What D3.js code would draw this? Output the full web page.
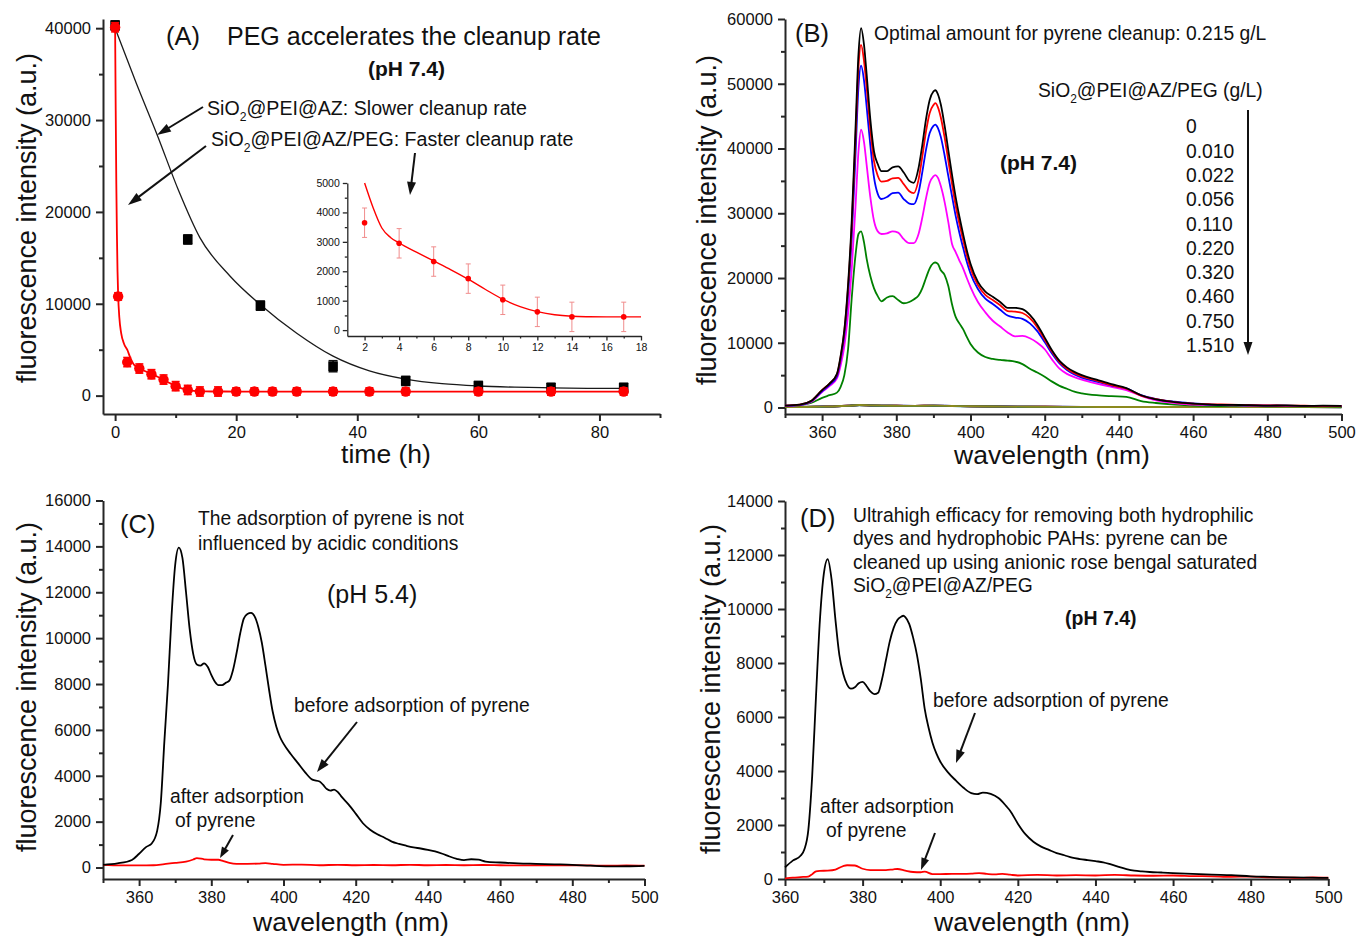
<!DOCTYPE html>
<html>
<head>
<meta charset="utf-8">
<script src="https://cdn.jsdelivr.net/npm/d3@7"></script>
<style>
  html, body { margin: 0; padding: 0; background: #fff; }
  svg { display: block; font-family: "Liberation Sans", Arial, Helvetica, sans-serif; }
</style>
</head>
<body>
<svg id="fig" width="1358" height="938"></svg>
<script>
// ---------------- Panel A: cleanup kinetics ----------------
// time (h), intensity, error
const azTime  = [0, 12, 24, 36, 48, 60, 72, 84];
const azValue = [40300, 17000, 9800, 3200, 1600, 1050, 850, 850];
const azError = [500, 500, 500, 600, 500, 500, 500, 500];

const pegTime  = [0, 0.5, 2, 4, 6, 8, 10, 12, 14, 17, 20, 23, 26, 30, 36, 42, 48, 60, 72, 84];
const pegValue = [40100, 10800, 3650, 2950, 2330, 1750, 1030, 620, 450, 450, 450, 450, 450, 450, 450, 450, 450, 450, 450, 450];
const pegError = [500, 400, 500, 500, 500, 500, 500, 500, 500, 500, 400, 400, 400, 400, 400, 400, 400, 400, 400, 400];

// fitted decay curves
const azFitTime  = [0, 3.5, 7, 10.5, 14, 19, 24, 30, 36, 42, 48, 54, 60, 66, 72, 78, 84];
const azFitValue = [40000, 34000, 28300, 22300, 17200, 13000, 9900, 6800, 4300, 2700, 1800, 1300, 1050, 920, 850, 800, 780];
const pegFitTime  = [0, 0.1, 0.2, 0.3, 0.4, 0.5, 0.7, 1, 1.5, 2, 2.5, 3, 3.5, 4, 5, 6, 7, 8, 9, 10, 11, 12, 13, 14, 15, 16, 18, 24, 36, 48, 60, 72, 84];
const pegFitValue = [40000, 31000, 23000, 17500, 13500, 11000, 8500, 6800, 5600, 5000, 4150, 3470, 3150, 2960, 2650, 2350, 2050, 1730, 1380, 1050, 800, 630, 520, 470, 455, 450, 450, 440, 430, 430, 430, 430, 430];

const timeTicks = [0, 20, 40, 60, 80];
const timeMinor = [10, 30, 50, 70, 90];
const aYTicks = [0, 10000, 20000, 30000, 40000];
const aYMinor = [5000, 15000, 25000, 35000];
const insetXTicks = [2, 4, 6, 8, 10, 12, 14, 16, 18];
const insetXMinor = [3, 5, 7, 9, 11, 13, 15, 17];
const insetYTicks = [0, 1000, 2000, 3000, 4000, 5000];
const insetYMinor = [500, 1500, 2500, 3500, 4500];

// ---------------- Panel B: dose series ----------------
const doseLabels = ["0", "0.010", "0.022", "0.056", "0.110", "0.220", "0.320", "0.460", "0.750", "1.510"];
const wlB = [350, 354, 357, 360, 362, 364, 365, 366, 367, 368,
             369, 369.8, 370.5, 371.3, 372, 373, 374, 375, 376, 377.5,
             379, 380.5, 382, 383.5, 384.7, 386, 387, 388, 389, 390,
             390.5, 391.2, 392, 393, 394, 395, 396, 397, 398, 399,
             400, 402, 404, 406, 408, 410, 412, 414, 416, 418,
             420, 422, 424, 426, 428, 430, 434, 438, 442, 446,
             450, 455, 460, 465, 470, 475, 480, 485, 490, 495, 500];
const dose0 = [300, 450, 1000, 2700, 3700, 5200, 8000, 12000, 19000, 29000,
               43000, 54500, 58600, 56000, 51500, 44500, 39500, 37600, 36500, 36500,
               37100, 37250, 36300, 35000, 34700, 37000, 40500, 44500, 47500, 48800,
               49000, 48400, 46800, 43600, 39800, 36000, 32500, 29500, 26800, 24300,
               22200, 19400, 17900, 17100, 16300, 15400, 15400, 15200, 14300, 12800,
               10800, 8800, 7200, 6200, 5500, 5000, 4300, 3600, 3000, 1900,
               1250, 850, 600, 450, 400, 380, 300, 320, 250, 280, 250];
const dose010 = [300, 450, 1000, 2700, 3700, 5100, 7800, 11800, 18500, 28000,
                 41500, 52500, 56000, 53500, 49500, 43000, 38000, 35800, 34900, 35000,
                 35400, 35450, 34500, 33400, 33100, 35200, 38700, 42600, 45500, 46700,
                 47000, 46400, 44800, 41800, 38200, 34600, 31200, 28400, 25900, 23500,
                 21500, 18900, 17400, 16600, 15800, 14900, 14800, 14600, 13800, 12400,
                 10500, 8600, 7000, 6000, 5300, 4800, 4150, 3450, 2900, 1850,
                 1300, 850, 600, 500, 450, 350, 320, 300, 280, 250, 250];
const dose022 = [300, 420, 950, 2500, 3500, 4800, 7400, 11200, 17500, 26500,
                 39000, 49500, 52800, 50500, 46500, 40500, 35500, 33000, 32200, 32500,
                 33100, 33200, 32200, 31500, 31400, 33200, 36300, 39800, 42400, 43500,
                 43700, 43200, 41800, 39000, 35800, 32700, 29600, 27000, 24700, 22500,
                 20700, 18300, 16800, 16000, 15100, 14200, 13900, 13700, 13000, 11800,
                 10100, 8300, 6800, 5800, 5100, 4600, 4000, 3400, 2950, 1900,
                 1300, 900, 650, 450, 400, 350, 300, 280, 260, 240, 230];
const dose056 = [250, 380, 850, 2400, 3300, 4500, 6500, 9500, 14500, 21500,
                 31000, 39500, 42900, 41000, 37500, 32500, 28800, 27200, 26800, 26900,
                 27200, 27000, 26000, 25400, 25400, 26800, 29300, 32300, 34700, 35700,
                 35900, 35500, 34200, 31800, 28700, 25300, 24000, 22700, 21500, 20000,
                 18600, 16300, 14700, 13400, 12500, 11600, 11000, 11050, 10700, 10000,
                 9000, 7400, 6000, 5200, 4700, 4300, 3700, 3200, 2700, 1800,
                 1100, 700, 450, 400, 350, 300, 300, 250, 250, 230, 220];
const dose110 = [200, 350, 700, 1500, 1900, 2300, 3200, 5000, 9000, 17000,
                 23500, 26800, 27200, 25500, 23000, 20300, 18400, 17200, 16400, 17000,
                 17200, 16600, 16100, 16300, 16700, 17300, 18400, 20000, 21500, 22300,
                 22400, 22200, 21200, 20500, 18800, 16000, 14000, 13000, 12100, 10900,
                 9800, 8500, 7800, 7500, 7350, 7250, 7100, 6700, 6000, 5400,
                 4750, 4000, 3350, 2900, 2450, 2200, 1900, 1750, 1650, 1000,
                 700, 450, 300, 250, 230, 230, 200, 200, 180, 180, 150];
// residual emission at high doses (coarse grid)
const wlLow = [350, 355, 360, 364, 367, 370, 373, 376, 380, 385, 390, 395, 400, 410, 420, 430, 440, 460, 480, 500];
const dose220 = [80, 100, 150, 200, 280, 380, 330, 300, 280, 260, 300, 250, 200, 150, 120, 100, 90, 80, 70, 60];
const dose320 = [70, 95, 140, 190, 270, 370, 320, 290, 270, 250, 290, 240, 190, 140, 110, 95, 85, 75, 65, 55];
const dose460 = [70, 90, 135, 185, 265, 365, 320, 290, 265, 245, 285, 235, 185, 140, 110, 90, 80, 70, 60, 50];
const dose750 = [65, 85, 130, 180, 260, 360, 315, 285, 260, 240, 280, 230, 180, 135, 105, 90, 80, 70, 60, 50];
const dose1510 = [60, 90, 140, 190, 270, 380, 330, 300, 270, 250, 290, 240, 190, 140, 110, 95, 85, 75, 65, 55];
const doseColors = ["#000000", "#ff0000", "#0000ff", "#ff00ff", "#008000", "#000080", "#800080", "#800000", "#008080", "#8c8a1e"];

const wlTicks = [360, 380, 400, 420, 440, 460, 480, 500];
const wlMinor = [350, 370, 390, 410, 430, 450, 470, 490];
const bYTicks = [0, 10000, 20000, 30000, 40000, 50000, 60000];
const bYMinor = [5000, 15000, 25000, 35000, 45000, 55000];

// ---------------- Panel C: pH 5.4 ----------------
const cBefore = [[350,120],[354,180],[358,330],[360,600],[362,900],[363.5,1050],[365,1600],[366,2800],[367,5500],[368,8000],
  [369,11000],[370,13200],[371,13950],[372,13500],[373,12000],[374,10400],[375,9300],[376,8850],[377,8800],[378,8900],
  [379,8750],[380,8400],[381,8100],[382,7950],[383,7950],[384,8050],[385,8150],[386,8600],[387,9350],[388,10200],
  [389,10850],[390,11050],[391,11100],[392,10950],[393,10500],[394,9800],[395,8800],[396,7750],[397,6800],[398,6150],
  [399,5700],[400,5400],[402,4950],[404,4550],[406,4150],[408,3830],[410,3750],[411,3600],[412,3420],[413,3350],
  [414,3400],[415,3300],[416,3100],[418,2750],[420,2350],[422,1930],[424,1650],[426,1450],[428,1300],[430,1130],
  [432,1030],[434,950],[436,880],[438,830],[440,770],[442,700],[444,600],[446,480],[448,380],[450,320],
  [452,360],[454,340],[456,260],[460,220],[465,180],[470,160],[475,140],[480,120],[485,80],[490,50],[495,55],[500,75]];
const cAfter = [[350,120],[355,90],[360,90],[364,100],[367,150],[370,200],[373,260],[375,350],[376,410],[378,360],
  [380,340],[382,340],[383,300],[385,200],[387,160],[390,160],[393,170],[395,190],[397,160],[400,120],
  [405,130],[410,100],[415,120],[420,100],[425,110],[430,100],[435,120],[440,100],[445,110],[450,100],
  [455,110],[460,100],[465,90],[470,100],[475,90],[480,100],[485,90],[490,80],[495,90],[500,80]];
const cYTicks = [0, 2000, 4000, 6000, 8000, 10000, 12000, 14000, 16000];
const cYMinor = [1000, 3000, 5000, 7000, 9000, 11000, 13000, 15000];

// ---------------- Panel D: rose bengal saturated sorbent ----------------
const dBefore = [[360,430],[362,680],[364,860],[365,1100],[366,1800],[367,3800],[368,6800],[369,9600],[370,11300],[371,11850],
  [372,11100],[373,9600],[374,8300],[375,7600],[376,7200],[377,7050],[378,7100],[379,7250],[380,7300],[381,7150],
  [382,6950],[383,6850],[384,6900],[385,7400],[386,8100],[387,8800],[388,9300],[389,9600],[390,9720],[390.5,9750],
  [391,9700],[392,9450],[393,8950],[394,8300],[395,7400],[396,6300],[397,5600],[398,5050],[399,4650],[400,4350],
  [402,3950],[404,3650],[406,3380],[408,3180],[409.5,3140],[411,3200],[413,3150],[415,3000],[417,2700],[418,2530],
  [420,2050],[422,1650],[424,1380],[426,1200],[428,1080],[430,960],[432,880],[434,790],[436,740],[438,700],
  [440,660],[442,620],[444,540],[446,450],[448,370],[450,310],[452,280],[454,260],[457,240],[460,220],
  [465,190],[470,160],[475,140],[480,100],[485,80],[490,60],[495,50],[500,40]];
const dAfter = [[360,20],[362,50],[364,70],[366,90],[367,180],[368,280],[369,300],[371,310],[373,350],[375,480],
  [376,510],[378,500],[380,380],[382,330],[384,330],[386,330],[388,360],[389,370],[391,310],[393,260],
  [395,250],[396,270],[398,180],[400,180],[403,190],[406,190],[408,200],[410,220],[412,190],[414,170],
  [416,190],[418,160],[420,130],[425,150],[430,130],[435,140],[440,130],[445,150],[450,130],[455,120],
  [460,130],[465,110],[470,100],[475,80],[480,90],[485,60],[490,50],[493,40],[496,60],[500,50]];
const dXTicks = [360, 380, 400, 420, 440, 460, 480, 500];
const dXMinor = [370, 390, 410, 430, 450, 470, 490];
const dYTicks = [0, 2000, 4000, 6000, 8000, 10000, 12000, 14000];
const dYMinor = [1000, 3000, 5000, 7000, 9000, 11000, 13000];

// ---------------- drawing helpers ----------------
const svg = d3.select("#fig");
const AX = "#262626";
const INK = "#111";

function drawAxes(g, x, y, c) {
  const yBase = y.range()[0], xBase = x.range()[0];
  const fmt = d3.format("d");
  const style = (sel, sw) => {
    sel.selectAll("path, line").attr("stroke", AX).attr("stroke-width", sw);
    sel.selectAll("text").attr("fill", INK).attr("font-size", c.font)
      .attr("font-family", '"Liberation Sans", Arial, sans-serif');
    sel.attr("font-family", null).attr("font-size", null);
  };
  const gx = g.append("g").attr("transform", `translate(0,${yBase})`)
    .call(d3.axisBottom(x).tickValues(c.xMajor).tickSize(c.tick).tickSizeOuter(0).tickPadding(c.pad).tickFormat(fmt));
  style(gx, c.sw);
  const gxm = g.append("g").attr("transform", `translate(0,${yBase})`)
    .call(d3.axisBottom(x).tickValues(c.xMinor).tickSize(c.minor).tickSizeOuter(0).tickFormat(""));
  gxm.select(".domain").remove();
  style(gxm, c.sw);
  const gy = g.append("g").attr("transform", `translate(${xBase},0)`)
    .call(d3.axisLeft(y).tickValues(c.yMajor).tickSize(c.tick).tickSizeOuter(0).tickPadding(c.pad).tickFormat(fmt));
  style(gy, c.sw);
  const gym = g.append("g").attr("transform", `translate(${xBase},0)`)
    .call(d3.axisLeft(y).tickValues(c.yMinor).tickSize(c.minor).tickSizeOuter(0).tickFormat(""));
  gym.select(".domain").remove();
  style(gym, c.sw);
}

function label(g, x, y, parts, size, weight, anchor) {
  const t = g.append("text").attr("x", x).attr("y", y)
    .attr("font-size", size).attr("font-weight", weight || "normal")
    .attr("fill", INK).attr("text-anchor", anchor || "start");
  let lowered = false;
  (typeof parts === "string" ? [parts] : parts).forEach(p => {
    if (typeof p === "string") {
      const ts = t.append("tspan").text(p);
      if (lowered) { ts.attr("dy", -size * 0.3); lowered = false; }
    } else {
      t.append("tspan").text(p.sub).attr("font-size", size * 0.62).attr("dy", size * 0.3);
      lowered = true;
    }
  });
  return t;
}

function yTitle(g, x, y, text) {
  g.append("text").attr("transform", `translate(${x},${y}) rotate(-90)`)
    .attr("text-anchor", "middle").attr("font-size", 27).attr("fill", INK).text(text);
}

function arrow(g, x1, y1, x2, y2, len, half, sw) {
  len = len || 13; half = half || 4.5; sw = sw || 2;
  const a = Math.atan2(y2 - y1, x2 - x1);
  const bx = x2 - len * Math.cos(a), by = y2 - len * Math.sin(a);
  g.append("line").attr("x1", x1).attr("y1", y1).attr("x2", bx + 1 * Math.cos(a)).attr("y2", by + 1 * Math.sin(a))
    .attr("stroke", INK).attr("stroke-width", sw);
  const px = -Math.sin(a) * half, py = Math.cos(a) * half;
  g.append("path").attr("d", `M${x2},${y2}L${bx + px},${by + py}L${bx - px},${by - py}Z`).attr("fill", INK);
}

function curve(g, pts, x, y, color, w, kind) {
  g.append("path").datum(pts)
    .attr("d", d3.line().x(d => x(d[0])).y(d => y(d[1])).curve(kind || d3.curveMonotoneX))
    .attr("fill", "none").attr("stroke", color).attr("stroke-width", w)
    .attr("stroke-linejoin", "round");
}

const zip = (a, b) => a.map((v, i) => [v, b[i]]);

// ---------------- Panel A ----------------
{
  const g = svg.append("g");
  const x = d3.scaleLinear().domain([-2, 90]).range([103, 660]);
  const y = d3.scaleLinear().domain([-2000, 41000]).range([414, 19]);
  drawAxes(g, x, y, { xMajor: timeTicks, xMinor: timeMinor, yMajor: aYTicks, yMinor: aYMinor,
                      tick: 7, minor: 4, pad: 5, font: 16.5, sw: 2 });

  curve(g, zip(azFitTime, azFitValue), x, y, "#1a1a1a", 1.3);
  curve(g, zip(pegFitTime, pegFitValue), x, y, "#ff0000", 1.8);

  // AZ series: squares with error bars
  const az = zip(azTime, azValue).map((d, i) => ({ t: d[0], v: d[1], e: azError[i] }));
  const peg = zip(pegTime, pegValue).map((d, i) => ({ t: d[0], v: d[1], e: pegError[i] }));
  const errBars = (data, color, cap, sw) => {
    const eg = g.append("g").attr("stroke", color).attr("stroke-width", sw);
    data.forEach(d => {
      const cx = x(d.t), y1 = y(d.v + d.e), y2 = y(d.v - d.e);
      eg.append("line").attr("x1", cx).attr("x2", cx).attr("y1", y1).attr("y2", y2);
      eg.append("line").attr("x1", cx - cap).attr("x2", cx + cap).attr("y1", y1).attr("y2", y1);
      eg.append("line").attr("x1", cx - cap).attr("x2", cx + cap).attr("y1", y2).attr("y2", y2);
    });
  };
  errBars(az, "#111", 4.5, 1.6);
  g.append("g").selectAll("rect").data(az).join("rect")
    .attr("x", d => x(d.t) - 4.8).attr("y", d => y(d.v) - 4.8)
    .attr("width", 9.6).attr("height", 9.6).attr("fill", "#000");
  errBars(peg, "#ff0000", 4, 1.6);
  g.append("g").selectAll("circle").data(peg).join("circle")
    .attr("cx", d => x(d.t)).attr("cy", d => y(d.v)).attr("r", 5.2).attr("fill", "#ff0000");

  // annotations
  label(g, 166, 45, "(A)", 25.5);
  label(g, 227, 45, "PEG accelerates the cleanup rate", 25);
  label(g, 368, 76, "(pH 7.4)", 21, "bold");
  label(g, 207, 115, ["SiO", { sub: "2" }, "@PEI@AZ: Slower cleanup rate"], 19.6);
  label(g, 211, 146, ["SiO", { sub: "2" }, "@PEI@AZ/PEG: Faster cleanup rate"], 19.6);
  arrow(g, 203, 107, 157, 135, 14, 4.5, 2);
  arrow(g, 206, 146, 128, 205, 14, 4.5, 2);
  arrow(g, 415, 153, 410, 195, 13, 4.5, 2);

  yTitle(g, 36, 218, "fluorescence intensity (a.u.)");
  label(g, 386, 463, "time (h)", 26.5, "normal", "middle");

  // inset: early-time detail
  const xi = d3.scaleLinear().domain([1, 18]).range([347.3, 641]);
  const yi = d3.scaleLinear().domain([-200, 5000]).range([336, 183]);
  const gi = g.append("g");
  drawAxes(gi, xi, yi, { xMajor: insetXTicks, xMinor: insetXMinor, yMajor: insetYTicks, yMinor: insetYMinor,
                         tick: 4.5, minor: 2.5, pad: 3, font: 10.5, sw: 1.3 });
  const early = peg.filter(d => d.t >= 2 && d.t <= 17);
  const ieg = gi.append("g").attr("stroke", "#f08c8c").attr("stroke-width", 1);
  early.forEach(d => {
    const cx = xi(d.t), y1 = yi(d.v + d.e), y2 = yi(d.v - d.e);
    ieg.append("line").attr("x1", cx).attr("x2", cx).attr("y1", y1).attr("y2", y2);
    ieg.append("line").attr("x1", cx - 2.5).attr("x2", cx + 2.5).attr("y1", y1).attr("y2", y1);
    ieg.append("line").attr("x1", cx - 2.5).attr("x2", cx + 2.5).attr("y1", y2).attr("y2", y2);
  });
  const insetFit = zip(pegFitTime, pegFitValue).filter(d => d[0] >= 2 && d[0] <= 18);
  curve(gi, insetFit, xi, yi, "#ff0000", 1.4);
  gi.append("g").selectAll("circle").data(early).join("circle")
    .attr("cx", d => xi(d.t)).attr("cy", d => yi(d.v)).attr("r", 2.8).attr("fill", "#ff0000");
}

// ---------------- Panel B ----------------
{
  const g = svg.append("g");
  const x = d3.scaleLinear().domain([350, 500]).range([785, 1341.5]);
  const y = d3.scaleLinear().domain([-1000, 60000]).range([414, 19]);
  drawAxes(g, x, y, { xMajor: wlTicks, xMinor: wlMinor, yMajor: bYTicks, yMinor: bYMinor,
                      tick: 7, minor: 4, pad: 5, font: 16.5, sw: 2 });

  const low = [dose220, dose320, dose460, dose750, dose1510];
  low.forEach((vals, i) => curve(g, zip(wlLow, vals), x, y, doseColors[5 + i], 1.9));
  const main = [dose110, dose056, dose022, dose010, dose0];
  const mainColors = [doseColors[4], doseColors[3], doseColors[2], doseColors[1], doseColors[0]];
  main.forEach((vals, i) => curve(g, zip(wlB, vals), x, y, mainColors[i], 1.8));

  label(g, 795, 42, "(B)", 25.5);
  label(g, 874, 40, "Optimal amount for pyrene cleanup: 0.215 g/L", 19.3);
  label(g, 1038, 97, ["SiO", { sub: "2" }, "@PEI@AZ/PEG (g/L)"], 19.3);
  doseLabels.forEach((s, i) => label(g, 1186, 133.3 + i * 24.3, s, 19.3));
  arrow(g, 1248, 110, 1248, 355, 13, 4.5, 2);
  label(g, 1000, 170, "(pH 7.4)", 21, "bold");

  yTitle(g, 716, 220, "fluorescence intensity (a.u.)");
  label(g, 1052, 464, "wavelength (nm)", 26.5, "normal", "middle");
}

// ---------------- Panel C ----------------
{
  const g = svg.append("g");
  const x = d3.scaleLinear().domain([350, 500]).range([103, 644.5]);
  const y = d3.scaleLinear().domain([-500, 16000]).range([879, 500.5]);
  drawAxes(g, x, y, { xMajor: wlTicks, xMinor: wlMinor, yMajor: cYTicks, yMinor: cYMinor,
                      tick: 7, minor: 4, pad: 5, font: 16.5, sw: 2 });
  curve(g, cAfter, x, y, "#ff0000", 1.8);
  curve(g, cBefore, x, y, "#000000", 1.8);

  label(g, 120, 533, "(C)", 25.5);
  label(g, 198, 525, "The adsorption of pyrene is not", 19.3);
  label(g, 198, 550, "influenced by acidic conditions", 19.3);
  label(g, 327, 603, "(pH 5.4)", 25);
  label(g, 294, 712, "before adsorption of pyrene", 19.3);
  arrow(g, 357, 722, 317, 772, 13, 4.5, 2);
  label(g, 170, 803, "after adsorption", 19.3);
  label(g, 175, 827, "of pyrene", 19.3);
  arrow(g, 233, 835, 220, 858, 11, 4, 2);

  yTitle(g, 36, 687, "fluorescence intensity (a.u.)");
  label(g, 351, 931, "wavelength (nm)", 26.5, "normal", "middle");
}

// ---------------- Panel D ----------------
{
  const g = svg.append("g");
  const x = d3.scaleLinear().domain([360, 500]).range([785, 1328.3]);
  const y = d3.scaleLinear().domain([0, 14000]).range([879, 501]);
  drawAxes(g, x, y, { xMajor: dXTicks, xMinor: dXMinor, yMajor: dYTicks, yMinor: dYMinor,
                      tick: 7, minor: 4, pad: 5, font: 16.5, sw: 2 });
  curve(g, dAfter, x, y, "#ff0000", 1.8);
  curve(g, dBefore, x, y, "#000000", 1.8);

  label(g, 800, 527, "(D)", 25.5);
  label(g, 853, 522, "Ultrahigh efficacy for removing both hydrophilic", 19.3);
  label(g, 853, 545.3, "dyes and hydrophobic PAHs: pyrene can be", 19.3);
  label(g, 853, 568.6, "cleaned up using anionic rose bengal saturated", 19.3);
  label(g, 853, 592, ["SiO", { sub: "2" }, "@PEI@AZ/PEG"], 19.3);
  label(g, 1065, 625, "(pH 7.4)", 19.5, "bold");
  label(g, 933, 707, "before adsorption of pyrene", 19.3);
  arrow(g, 975, 713, 956, 763, 13, 4.5, 2);
  label(g, 820, 813, "after adsorption", 19.3);
  label(g, 826, 837, "of pyrene", 19.3);
  arrow(g, 935, 833, 921, 870, 12, 4, 2);

  yTitle(g, 720, 689, "fluorescence intensity (a.u.)");
  label(g, 1032, 931, "wavelength (nm)", 26.5, "normal", "middle");
}
</script>
</body>
</html>
